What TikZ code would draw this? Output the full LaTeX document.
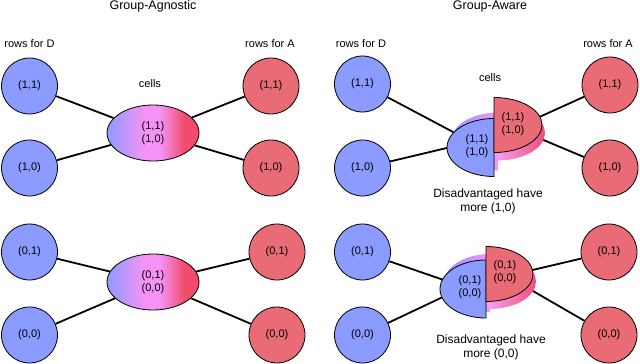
\documentclass[tikz,border=0pt]{standalone}
\usepackage{fontspec}
\setmainfont{Liberation Sans}
\usetikzlibrary{shapes.geometric}
\definecolor{dblue}{HTML}{8C9BFF}
\definecolor{ared}{HTML}{E86B76}
\definecolor{mpink}{HTML}{F592F5}
\definecolor{rpink}{HTML}{F24C6C}
\definecolor{shblue}{HTML}{9C8CFF}
\definecolor{shpink}{HTML}{F09AF5}
\definecolor{shlpink}{HTML}{F5A0F0}
\definecolor{shred}{HTML}{F04C78}
\pgfdeclarehorizontalshading{cellshade}{100bp}{color(0bp)=(dblue); color(25bp)=(dblue); color(45bp)=(mpink); color(54bp)=(mpink); color(67bp)=(rpink); color(100bp)=(rpink)}
\begin{document}
\begin{tikzpicture}[x=1pt,y=-1pt,
  dcirc/.style={circle,draw=black,line width=0.8pt,fill=dblue,minimum size=56pt,inner sep=0pt,font=\fontsize{11}{13}\selectfont},
  acirc/.style={dcirc,fill=ared},
  cellell/.style={ellipse,draw=black,line width=0.8pt,minimum width=92pt,minimum height=56pt,inner sep=0pt,
    shading=cellshade,align=center,font=\fontsize{11}{12.5}\selectfont},
  conn/.style={line width=1.8pt},
  ttl/.style={anchor=base,font=\fontsize{12.5}{14}\selectfont},
  lbl/.style={anchor=base,font=\fontsize{11}{13}\selectfont},
  celltxt/.style={align=center,inner sep=0pt,font=\fontsize{11}{12.5}\selectfont},
  note/.style={align=center,inner sep=0pt,font=\fontsize{12}{14}\selectfont},
  halfb/.style={fill=dblue,draw=black,line width=0.8pt},
  halfr/.style={fill=ared,draw=black,line width=0.8pt}
]
\useasboundingbox (0,0) rectangle (640,364);

% titles and labels
\node[ttl] (t1) at (153,9.3) {Group-Agnostic};
\node[ttl] (t2) at (490,9.3) {Group-Aware};
\node[lbl] (lD1) at (29.5,47.3) {rows for D};
\node[lbl] (lA1) at (270,47.3) {rows for A};
\node[lbl] (lD2) at (361,47.3) {rows for D};
\node[lbl] (lA2) at (608,47.3) {rows for A};
\node[lbl] (lc1) at (150,87.3) {cells};
\node[lbl] (lc2) at (490,81) {cells};

% left panel circles
\node[dcirc] (d11) at (29.5,86) {(1,1)};
\node[dcirc] (d10) at (29.5,168) {(1,0)};
\node[dcirc] (d01) at (29.5,252) {(0,1)};
\node[dcirc] (d00) at (29.5,335) {(0,0)};
\node[acirc] (a11) at (271,86) {(1,1)};
\node[acirc] (a10) at (271,168) {(1,0)};
\node[acirc] (a01) at (277,252) {(0,1)};
\node[acirc] (a00) at (277,335) {(0,0)};

% left panel cells
\node[cellell] (c1) at (153,133) {(1,1)\\(1,0)};
\node[cellell] (c2) at (153,282) {(0,1)\\(0,0)};
\foreach \n in {d11,d10,a11,a10} \draw[conn] (\n) -- (c1);
\foreach \n in {d01,d00,a01,a00} \draw[conn] (\n) -- (c2);

% right panel circles
\node[dcirc] (e11) at (362.5,84) {(1,1)};
\node[dcirc] (e10) at (362.5,168) {(1,0)};
\node[dcirc] (e01) at (362.5,252) {(0,1)};
\node[dcirc] (e00) at (362.5,335) {(0,0)};
\node[acirc] (b11) at (610,85) {(1,1)};
\node[acirc] (b10) at (610,168) {(1,0)};
\node[acirc] (b01) at (609,252) {(0,1)};
\node[acirc] (b00) at (609,335) {(0,0)};

% connector targets inside the half cells
\coordinate (tbT) at (472,142);
\coordinate (trT) at (515,128);
\coordinate (tbB) at (464,287);
\coordinate (trB) at (507,276);
\draw[conn] (e11) -- (tbT);
\draw[conn] (e10) -- (tbT);
\draw[conn] (b11) -- (trT);
\draw[conn] (b10) -- (trT);
\draw[conn] (e01) -- (tbB);
\draw[conn] (e00) -- (tbB);
\draw[conn] (b01) -- (trB);
\draw[conn] (b00) -- (trB);

% top split cell
\shade[left color=shblue,right color=shpink] (498,112.5) arc[start angle=270,end angle=90,x radius=47,y radius=29] -- cycle;
\shade[left color=shlpink,right color=shred] (497,105.5) arc[start angle=-90,end angle=90,x radius=48,y radius=27.5] -- cycle;
\draw[halfb] (494,118.5) arc[start angle=270,end angle=90,x radius=47,y radius=29] -- cycle;
\draw[halfr] (494,97.5) arc[start angle=-90,end angle=90,x radius=48,y radius=27.5] -- cycle;
\node[celltxt] (hb1) at (477,146) {(1,1)\\(1,0)};
\node[celltxt] (hr1) at (513,124) {(1,1)\\(1,0)};
\node[note] (n1) at (488,201) {Disadvantaged have\\more (1,0)};

% bottom split cell
\shade[left color=shblue,right color=shpink] (490,254) arc[start angle=270,end angle=90,x radius=46,y radius=29] -- cycle;
\shade[left color=shlpink,right color=shred] (489,254) arc[start angle=-90,end angle=90,x radius=47,y radius=27.5] -- cycle;
\draw[halfb] (486,260) arc[start angle=270,end angle=90,x radius=46,y radius=29] -- cycle;
\draw[halfr] (486,246.5) arc[start angle=-90,end angle=90,x radius=47,y radius=27.5] -- cycle;
\node[celltxt] (hb2) at (470,287) {(0,1)\\(0,0)};
\node[celltxt] (hr2) at (505,272) {(0,1)\\(0,0)};
\node[note] (n2) at (491,347) {Disadvantaged have\\more (0,0)};
\end{tikzpicture}
\end{document}
